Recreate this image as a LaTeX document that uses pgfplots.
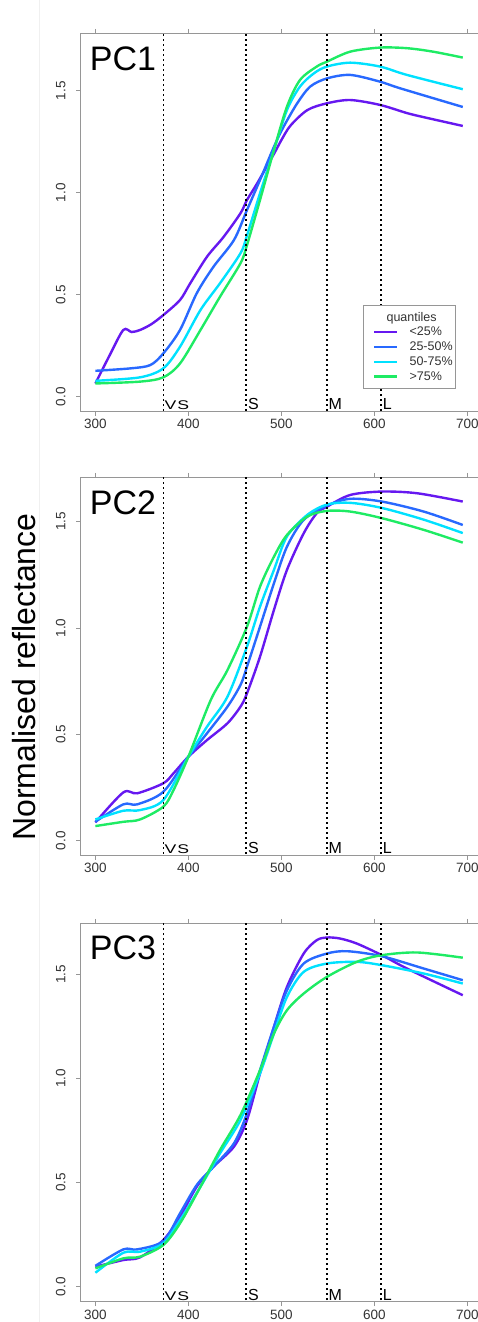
\documentclass[border=0pt]{standalone}
\usepackage{fontspec}
\setmainfont{Liberation Sans}
\usepackage{pgfplots}
\pgfplotsset{compat=1.18}
\definecolor{q1}{RGB}{102,24,240}
\definecolor{q2}{RGB}{40,105,255}
\definecolor{q3}{RGB}{0,225,255}
\definecolor{q4}{RGB}{30,235,100}
\definecolor{frame}{RGB}{150,150,150}
\pgfplotsset{
  pcstyle/.style={
    scale only axis, width=401.8pt,
    xmin=284, xmax=716,
    xtick={300,400,500,600,700}, ytick={0,0.5,1,1.5},
    tick align=outside, major tick length=4.5pt,
    axis line style={draw=frame, line width=0.8pt},
    every tick/.style={frame, line width=0.8pt},
    tick label style={font=\fontsize{13.5}{15}\selectfont, text=black!80},
    yticklabel style={rotate=90, anchor=south, /pgf/number format/fixed, /pgf/number format/fixed zerofill, /pgf/number format/precision=1},
    xticklabel shift=0.3pt, yticklabel shift=7pt,
    /pgf/number format/assume math mode=true,
    scaled y ticks=false,
    every axis plot/.append style={line width=2.4pt, smooth, tension=0.5},
  },
}
\tikzset{
  vline/.style={black, line width=1.2pt, dash pattern=on 1.8pt off 3.2pt, sharp plot},
  cone/.style={anchor=base west, inner sep=0pt, font=\fontsize{16}{18}\selectfont},
  pc/.style={anchor=base west, inner sep=0pt, font=\fontsize{34}{40}\selectfont},
}
\newcommand{\conelines}{%
  \addplot[vline, forget plot] coordinates {(373,-1) (373,3)};
  \addplot[vline, forget plot] coordinates {(462,-1) (462,3)};
  \addplot[vline, forget plot] coordinates {(549,-1) (549,3)};
  \addplot[vline, forget plot] coordinates {(607,-1) (607,3)};
  \node[cone, font=\fontsize{12.6}{14}\selectfont, xscale=1.4] at ({axis cs:374.2,0}|-{rel axis cs:0,0.0045}) {V\kern0.6pt S};
  \node[cone] at ({axis cs:464,0}|-{rel axis cs:0,0.0045}) {S};
  \node[cone] at ({axis cs:550.5,0}|-{rel axis cs:0,0.0045}) {M};
  \node[cone] at ({axis cs:609,0}|-{rel axis cs:0,0.0045}) {L};
}
\begin{document}
\begin{tikzpicture}
\draw[black!6, line width=0.8pt] (39.5pt,0pt) -- (39.5pt,-1322pt);
\node[rotate=90, anchor=base, font=\fontsize{32}{38}\selectfont] at (35pt,-677pt) {Normalised reflectance};

% ---------- PC1 ----------
\begin{axis}[pcstyle, at={(80.5pt,-411pt)}, anchor=south west, height=377.7pt,
  ymin=-0.07, ymax=1.781,
  legend style={at={(rel axis cs:0.703,0.281)}, anchor=north west, draw=frame, line width=0.8pt, fill=white,
    font=\fontsize{12.5}{14}\selectfont, text=black!80, inner xsep=1pt, inner ysep=4.7pt,
    column sep=9pt, row sep=0.6pt},
  legend cell align=left,
  legend image code/.code={\draw[#1] (10pt,0pt) -- (33pt,0pt);},
]
\addlegendimage{empty legend}
\addlegendentry{\makebox[40pt][l]{\hspace*{-23pt}\raisebox{0pt}[\height][4.5pt]{quantiles}}}
\addplot[q1] coordinates {(300,0.065) (315,0.2) (330,0.327) (339,0.317) (348,0.327) (360,0.355) (373,0.40) (391,0.474) (402,0.556) (420,0.686) (438,0.784) (456,0.899) (463,0.964) (474,1.046) (492,1.19) (500,1.258) (510,1.33) (528,1.405) (549,1.438) (574,1.454) (606,1.43) (635,1.39) (653,1.37) (695,1.327)};
\addlegendentry{<25\%}
\addplot[q2] coordinates {(300,0.127) (338,0.139) (359,0.155) (373,0.212) (391,0.327) (409,0.507) (427,0.637) (449,0.768) (463,0.915) (477,1.062) (492,1.225) (502,1.32) (517,1.438) (531,1.52) (549,1.56) (574,1.577) (606,1.544) (628,1.511) (695,1.42)};
\addlegendentry{25-50\%}
\addplot[q3] coordinates {(300,0.078) (348,0.095) (373,0.139) (391,0.245) (413,0.425) (434,0.556) (456,0.703) (463,0.79) (477,0.997) (492,1.209) (506,1.405) (520,1.52) (535,1.585) (549,1.618) (574,1.637) (606,1.618) (635,1.577) (695,1.507)};
\addlegendentry{50-75\%}
\addplot[q4] coordinates {(300,0.065) (348,0.074) (373,0.095) (391,0.163) (413,0.327) (434,0.49) (456,0.654) (463,0.743) (477,0.964) (492,1.209) (506,1.422) (520,1.552) (538,1.618) (549,1.642) (574,1.691) (606,1.711) (635,1.708) (663,1.691) (695,1.662)};
\addlegendentry{\raisebox{0pt}[\height][6.5pt]{>75\%}}
\conelines
\node[pc] at (rel axis cs:0.023,0.902) {PC1};
\end{axis}

% ---------- PC2 ----------
\begin{axis}[pcstyle, at={(80.5pt,-855pt)}, anchor=south west, height=377.7pt,
  ymin=-0.067, ymax=1.708]
\addplot[q1] coordinates {(300,0.086) (330,0.227) (345,0.223) (373,0.27) (384,0.317) (400,0.395) (420,0.473) (442,0.552) (456,0.63) (463,0.693) (477,0.865) (492,1.085) (506,1.273) (524,1.445) (538,1.539) (549,1.57) (574,1.625) (608,1.641) (646,1.633) (695,1.594)};
\addplot[q2] coordinates {(300,0.089) (330,0.171) (345,0.171) (373,0.23) (400,0.395) (420,0.505) (442,0.63) (456,0.732) (463,0.818) (477,1.006) (492,1.21) (506,1.382) (524,1.508) (549,1.575) (574,1.607) (608,1.594) (653,1.547) (695,1.484)};
\addplot[q3] coordinates {(300,0.1) (330,0.141) (348,0.144) (373,0.191) (400,0.395) (420,0.536) (442,0.677) (463,0.912) (477,1.1) (492,1.273) (506,1.43) (528,1.532) (549,1.58) (574,1.588) (608,1.564) (653,1.509) (695,1.446)};
\addplot[q4] coordinates {(300,0.069) (330,0.089) (348,0.1) (373,0.16) (384,0.238) (400,0.395) (424,0.661) (442,0.802) (463,1.006) (477,1.194) (492,1.335) (506,1.437) (528,1.524) (549,1.55) (574,1.547) (608,1.516) (653,1.461) (695,1.401)};
\conelines
\node[pc] at (rel axis cs:0.023,0.902) {PC2};
\end{axis}

% ---------- PC3 ----------
\begin{axis}[pcstyle, at={(80.5pt,-1301.7pt)}, anchor=south west, height=378.4pt,
  ymin=-0.072, ymax=1.744]
\addplot[q1] coordinates {(300,0.096) (330,0.128) (348,0.141) (373,0.224) (391,0.336) (409,0.48) (427,0.576) (449,0.672) (463,0.8) (477,1.023) (492,1.247) (506,1.439) (524,1.599) (538,1.663) (549,1.676) (563,1.671) (581,1.647) (608,1.591) (635,1.527) (695,1.399)};
\addplot[q2] coordinates {(300,0.1) (330,0.179) (345,0.179) (373,0.219) (391,0.352) (409,0.488) (427,0.576) (449,0.688) (463,0.832) (477,1.039) (492,1.247) (506,1.423) (524,1.551) (549,1.599) (571,1.61) (608,1.586) (653,1.527) (695,1.471)};
\addplot[q3] coordinates {(300,0.067) (330,0.163) (348,0.168) (373,0.208) (391,0.32) (413,0.48) (434,0.64) (456,0.8) (477,1.023) (492,1.215) (506,1.391) (524,1.511) (549,1.551) (581,1.559) (608,1.543) (653,1.503) (695,1.455)};
\addplot[q4] coordinates {(300,0.088) (330,0.136) (348,0.144) (373,0.2) (391,0.304) (413,0.48) (434,0.656) (456,0.824) (477,1.039) (492,1.215) (506,1.327) (524,1.407) (549,1.487) (581,1.559) (608,1.591) (646,1.604) (695,1.579)};
\conelines
\node[pc] at (rel axis cs:0.023,0.905) {PC3};
\end{axis}

\pgfresetboundingbox
\path[use as bounding box] (0pt,0pt) rectangle (477pt,-1322pt);
\end{tikzpicture}
\end{document}
